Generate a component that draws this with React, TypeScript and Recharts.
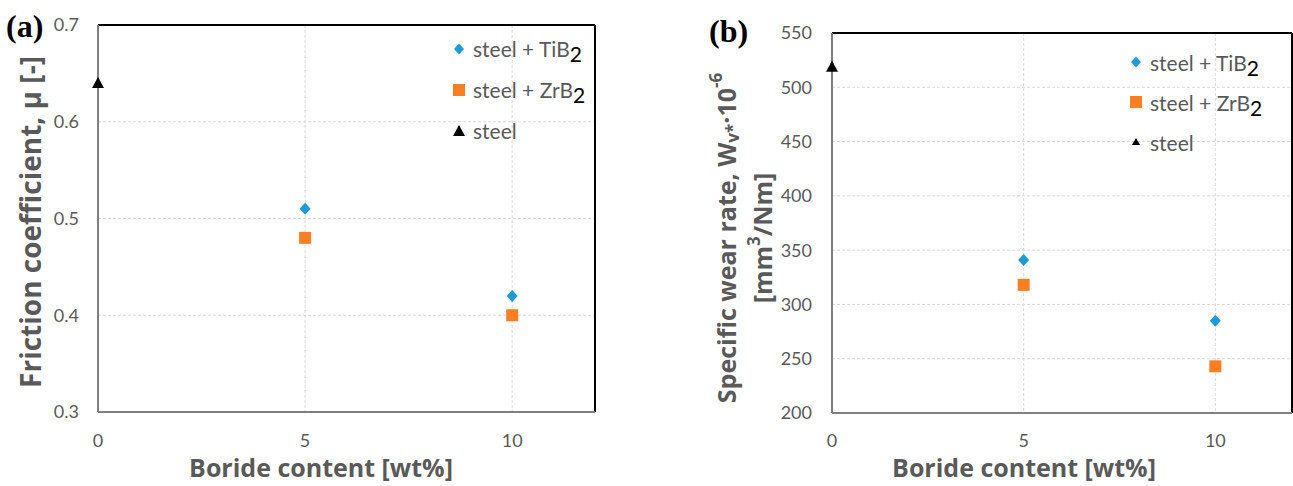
import {
  ScatterChart,
  Scatter,
  XAxis,
  YAxis,
  CartesianGrid,
  ReferenceLine,
  Legend,
} from "recharts";

// boride content of the samples [wt%]
const borideContent = [5, 10];
const steelContent = [0];
const xTicks = [0, 5, 10];

// (a) friction coefficient
const frictionTiB2 = [0.51, 0.42];
const frictionZrB2 = [0.48, 0.4];
const frictionSteel = [0.64];
const frictionTicks = [0.3, 0.4, 0.5, 0.6, 0.7];

// (b) specific wear rate
const wearTiB2 = [341, 285];
const wearZrB2 = [318, 243];
const wearSteel = [519];
const wearTicks = [200, 250, 300, 350, 400, 450, 500, 550];

const seriesNames = ["steel + TiB2", "steel + ZrB2", "steel"];
const colors = { tib2: "#1b9bd7", zrb2: "#fb7e22", steel: "#000000" };

const toPoints = (xs, ys) => xs.map((x, i) => ({ x, y: ys[i] }));

const TEXT = "#595959";
const tickStyle = { fill: TEXT, fontSize: 18, fontFamily: "Lato" };
const titleFont = { fontFamily: "Open Sans", fontWeight: 700, fontSize: 25, fill: TEXT };

const diamond = ({ cx, cy, fill }) => (
  <polygon
    points={`${cx},${cy - 6} ${cx + 5.5},${cy} ${cx},${cy + 6} ${cx - 5.5},${cy}`}
    fill={fill}
  />
);
const square = ({ cx, cy, fill }) => (
  <rect x={cx - 6} y={cy - 6} width={12} height={12} fill={fill} />
);
const triangle = ({ cx, cy, fill }) => (
  <polygon
    points={`${cx},${cy - 6} ${cx + 6},${cy + 5} ${cx - 6},${cy + 5}`}
    fill={fill}
  />
);

const LegendMarker = ({ type, color, small }) => {
  if (type === "diamond")
    return <polygon points="6,0.5 11,6 6,11.5 1,6" fill={color} />;
  if (type === "square") return <rect x={0} y={0} width={12} height={12} fill={color} />;
  const s = small ? 4 : 6;
  return <polygon points={`6,${6 - s} ${6 + s},${6 + s - 1} ${6 - s},${6 + s - 1}`} fill={color} />;
};

const LegendBox = ({ payload, rowHeight, small }) => {
  // keep the legend in series order, not alphabetical
  const items = [...(payload || [])].sort(
    (a, b) => seriesNames.indexOf(String(a.value)) - seriesNames.indexOf(String(b.value))
  );
  return (
    <div>
      {items.map((item) => {
        const name = String(item.value);
        const hasSub = name.endsWith("2");
        return (
          <div
            key={name}
            style={{ display: "flex", alignItems: "center", height: rowHeight }}
          >
            <svg width={12} height={12} style={{ overflow: "visible" }}>
              <LegendMarker type={item.type} color={item.color} small={small} />
            </svg>
            <span
              style={{
                marginLeft: 8,
                fontFamily: "Lato",
                fontSize: 21,
                color: TEXT,
                whiteSpace: "nowrap",
              }}
            >
              {hasSub ? name.slice(0, -1) : name}
              {hasSub && (
                <span style={{ position: "relative", top: 5, color: "#000", fontSize: 21 }}>
                  2
                </span>
              )}
            </span>
          </div>
        );
      })}
    </div>
  );
};

const axisLine = { stroke: "#7f7f7f", strokeWidth: 2 };

function FrictionChart() {
  return (
    <ScatterChart
      width={640}
      height={486}
      margin={{ top: 25, right: 45, bottom: 44, left: 38 }}
    >
      <CartesianGrid stroke="#d9d9d9" strokeDasharray="3 2" />
      <XAxis
        type="number"
        dataKey="x"
        domain={[0, 12]}
        ticks={xTicks}
        height={30}
        tickSize={0}
        tickMargin={22}
        tickLine={false}
        axisLine={axisLine}
        tick={tickStyle}
      />
      <YAxis
        type="number"
        dataKey="y"
        domain={[0.3, 0.7]}
        ticks={frictionTicks}
        tickFormatter={(v) => v.toFixed(1)}
        width={60}
        tickSize={0}
        tickMargin={19}
        tickLine={false}
        axisLine={axisLine}
        tick={tickStyle}
      />
      <ReferenceLine y={0.7} stroke="#000" strokeWidth={2} />
      <ReferenceLine x={12} stroke="#000" strokeWidth={2} />
      <Legend
        layout="vertical"
        align="center"
        verticalAlign="middle"
        wrapperStyle={{ left: 453, top: 28, width: "auto" }}
        content={(p) => <LegendBox payload={p.payload} rowHeight={41} />}
      />
      <Scatter
        name={seriesNames[0]}
        data={toPoints(borideContent, frictionTiB2)}
        fill={colors.tib2}
        legendType="diamond"
        shape={diamond}
        isAnimationActive={false}
      />
      <Scatter
        name={seriesNames[1]}
        data={toPoints(borideContent, frictionZrB2)}
        fill={colors.zrb2}
        legendType="square"
        shape={square}
        isAnimationActive={false}
      />
      <Scatter
        name={seriesNames[2]}
        data={toPoints(steelContent, frictionSteel)}
        fill={colors.steel}
        legendType="triangle"
        shape={triangle}
        isAnimationActive={false}
      />
      <text
        x={6}
        y={37}
        fontFamily="Liberation Serif"
        fontWeight={700}
        fontSize={32}
        fill="#000"
      >
        (a)
      </text>
      <text
        transform="translate(30, 222) rotate(-90)"
        textAnchor="middle"
        dominantBaseline="central"
        {...titleFont}
        fontSize={28}
      >
        Friction coefficient, μ [-]
      </text>
      <text x={321} y={467} textAnchor="middle" dominantBaseline="central" {...titleFont}>
        Boride content [wt%]
      </text>
    </ScatterChart>
  );
}

function WearChart() {
  return (
    <ScatterChart
      width={653}
      height={486}
      margin={{ top: 33, right: 1, bottom: 43, left: 132 }}
    >
      <CartesianGrid stroke="#d9d9d9" strokeDasharray="3 2" />
      <XAxis
        type="number"
        dataKey="x"
        domain={[0, 12]}
        ticks={xTicks}
        height={30}
        tickSize={0}
        tickMargin={21}
        tickLine={false}
        axisLine={axisLine}
        tick={tickStyle}
      />
      <YAxis
        type="number"
        dataKey="y"
        domain={[200, 550]}
        ticks={wearTicks}
        width={60}
        tickSize={0}
        tickMargin={20}
        tickLine={false}
        axisLine={axisLine}
        tick={tickStyle}
      />
      <ReferenceLine y={550} stroke="#000" strokeWidth={2} />
      <ReferenceLine x={12} stroke="#000" strokeWidth={2} />
      <Legend
        layout="vertical"
        align="center"
        verticalAlign="middle"
        wrapperStyle={{ left: 490, top: 42, width: "auto" }}
        content={(p) => <LegendBox payload={p.payload} rowHeight={40} small />}
      />
      <Scatter
        name={seriesNames[0]}
        data={toPoints(borideContent, wearTiB2)}
        fill={colors.tib2}
        legendType="diamond"
        shape={diamond}
        isAnimationActive={false}
      />
      <Scatter
        name={seriesNames[1]}
        data={toPoints(borideContent, wearZrB2)}
        fill={colors.zrb2}
        legendType="square"
        shape={square}
        isAnimationActive={false}
      />
      <Scatter
        name={seriesNames[2]}
        data={toPoints(steelContent, wearSteel)}
        fill={colors.steel}
        legendType="triangle"
        shape={triangle}
        isAnimationActive={false}
      />
      <text
        x={69}
        y={42}
        fontFamily="Liberation Serif"
        fontWeight={700}
        fontSize={32}
        fill="#000"
      >
        (b)
      </text>
      <text
        transform="translate(86, 238) rotate(-90)"
        textAnchor="middle"
        dominantBaseline="central"
        {...titleFont}
      >
        Specific wear rate, W
        <tspan fontSize={17} dy={6}>v*</tspan>
        <tspan dy={-6}>·10</tspan>
        <tspan fontSize={17} dy={-11}>-6</tspan>
      </text>
      <text
        transform="translate(122, 238) rotate(-90)"
        textAnchor="middle"
        dominantBaseline="central"
        {...titleFont}
      >
        [mm
        <tspan fontSize={17} dy={-9}>3</tspan>
        <tspan dy={9}>/Nm]</tspan>
      </text>
      <text x={384} y={467} textAnchor="middle" dominantBaseline="central" {...titleFont}>
        Boride content [wt%]
      </text>
    </ScatterChart>
  );
}

export default function App() {
  return (
    <div
      style={{
        position: "absolute",
        left: 0,
        top: 0,
        width: 1293,
        height: 486,
        background: "#fff",
        overflow: "hidden",
      }}
    >
      <div style={{ position: "absolute", left: 0, top: 0 }}>
        <FrictionChart />
      </div>
      <div style={{ position: "absolute", left: 640, top: 0 }}>
        <WearChart />
      </div>
    </div>
  );
}
